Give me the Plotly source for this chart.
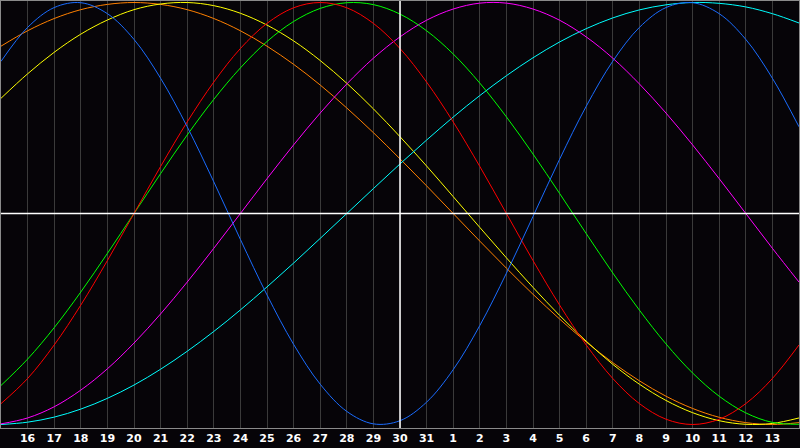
import plotly.graph_objects as go

# day index 0 = the 15th, 15 = the 30th (centre), 30 = the 14th of next month
day_index = list(range(31))
day_labels = ["16", "17", "18", "19", "20", "21", "22", "23", "24", "25", "26", "27",
              "28", "29", "30", "31", "1", "2", "3", "4", "5", "6", "7", "8", "9",
              "10", "11", "12", "13"]
label_index = list(range(1, 30))

physical = [0.721, 0.882, 0.976, 0.999, 0.947, 0.825, 0.641, 0.411, 0.150, -0.123,
            -0.386, -0.620, -0.809, -0.938, -0.997, -0.982, -0.894, -0.740, -0.531,
            -0.283, -0.014, 0.257, 0.508, 0.722, 0.882, 0.976, 0.999, 0.947, 0.825,
            0.641, 0.411]
emotional = [-0.901, -0.782, -0.623, -0.434, -0.223, 0.0, 0.223, 0.434, 0.623, 0.782,
             0.901, 0.975, 1.0, 0.975, 0.901, 0.782, 0.623, 0.434, 0.223, 0.0,
             -0.223, -0.434, -0.623, -0.782, -0.901, -0.975, -1.0, -0.975, -0.901,
             -0.782, -0.623]
intellectual = [-0.815, -0.690, -0.541, -0.372, -0.189, 0.0, 0.189, 0.372, 0.541, 0.690,
                0.815, 0.910, 0.972, 0.999, 0.990, 0.945, 0.866, 0.756, 0.618, 0.458,
                0.282, 0.095, -0.095, -0.282, -0.458, -0.618, -0.756, -0.866, -0.945,
                -0.990, -0.999]
intuitive = [-0.997, -0.969, -0.916, -0.837, -0.736, -0.614, -0.476, -0.325, -0.165, 0.0,
             0.165, 0.325, 0.476, 0.614, 0.736, 0.837, 0.916, 0.969, 0.997, 0.997,
             0.969, 0.916, 0.837, 0.736, 0.614, 0.476, 0.325, 0.165, 0.0, -0.165,
             -0.325]
spiritual = [-1.000, -0.989, -0.965, -0.927, -0.876, -0.813, -0.738, -0.653, -0.559,
             -0.457, -0.348, -0.235, -0.118, 0.0, 0.118, 0.235, 0.348, 0.457, 0.559,
             0.653, 0.738, 0.813, 0.876, 0.927, 0.965, 0.989, 1.000, 0.996, 0.979,
             0.947, 0.903]
aesthetic = [0.546, 0.662, 0.764, 0.850, 0.917, 0.966, 0.993, 1.000, 0.985, 0.949,
             0.893, 0.818, 0.725, 0.617, 0.496, 0.364, 0.225, 0.080, -0.066, -0.210,
             -0.350, -0.483, -0.605, -0.715, -0.809, -0.886, -0.944, -0.982, -0.999,
             -0.995, -0.969]
awareness = [0.793, 0.866, 0.924, 0.966, 0.991, 1.0, 0.991, 0.966, 0.924, 0.866,
             0.793, 0.707, 0.609, 0.5, 0.383, 0.259, 0.131, 0.0, -0.131, -0.259,
             -0.383, -0.5, -0.609, -0.707, -0.793, -0.866, -0.924, -0.966, -0.991,
             -1.0, -0.991]

series = [
    ("awareness", awareness, "#ff8000"),
    ("aesthetic", aesthetic, "#ffff00"),
    ("spiritual", spiritual, "#00ffff"),
    ("intuitive", intuitive, "#ff00ff"),
    ("intellectual", intellectual, "#00ff00"),
    ("emotional", emotional, "#ff0000"),
    ("physical", physical, "#1a6cff"),
]

fig = go.Figure()
for name, vals, col in series:
    fig.add_trace(go.Scatter(x=day_index, y=vals, mode="lines", name=name,
                             line=dict(color=col, width=1, shape="spline", smoothing=1.0),
                             hoverinfo="skip"))

fig.add_shape(type="line", xref="x", yref="paper", x0=15, x1=15, y0=0, y1=1,
              line=dict(color="#ffffff", width=1.5), layer="above")
fig.add_shape(type="line", xref="paper", yref="y", x0=0, x1=1, y0=0, y1=0,
              line=dict(color="#ffffff", width=1.5), layer="above")

bg = "#060408"
fig.update_layout(
    width=800, height=448,
    margin=dict(l=1, r=1, t=1, b=20),
    paper_bgcolor=bg, plot_bgcolor=bg,
    showlegend=False,
    xaxis=dict(range=[0, 30], tickmode="array", tickvals=label_index, ticktext=day_labels,
               showgrid=True, gridcolor="#3a3a3a", gridwidth=1, zeroline=False,
               showline=True, linecolor="#8a8a8a", linewidth=1, mirror=True,
               ticks="", tickfont=dict(family="DejaVu Sans", size=11, color="#ffffff",
                                       weight="bold"),
               fixedrange=True),
    yaxis=dict(range=[-1.0166, 1.0071], showgrid=False, zeroline=False,
               showticklabels=False, ticks="",
               showline=True, linecolor="#8a8a8a", linewidth=1, mirror=True,
               fixedrange=True),
)

fig.write_html("out.html", config={"displayModeBar": False},
               post_script="document.body.style.margin='0';document.body.style.background='%s';" % bg)
